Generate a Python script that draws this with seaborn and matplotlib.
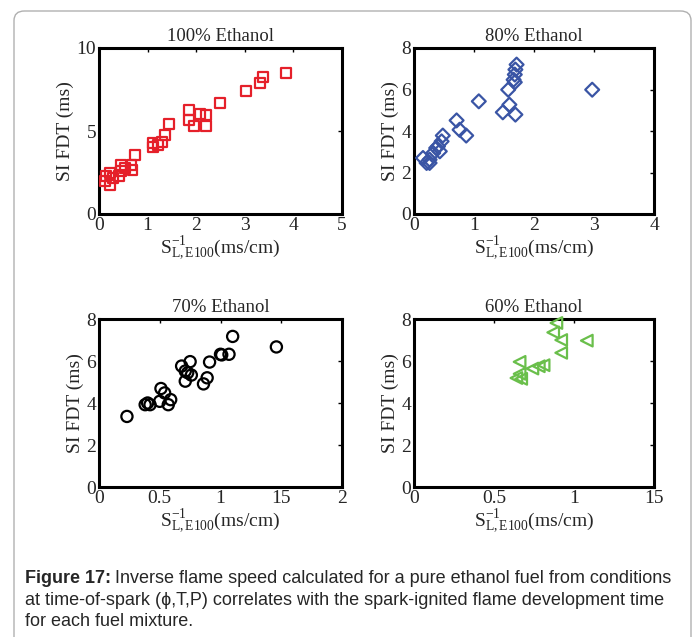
"""SI flame development time vs inverse flame speed, four ethanol blends"""
import numpy as np
import pandas as pd
import matplotlib
matplotlib.use("Agg")
import matplotlib.pyplot as plt
import seaborn as sns
from matplotlib.patches import FancyBboxPatch


### data
e100_x = [3.85, 3.38, 3.31, 3.02, 2.49, 1.86, 1.86, 2.08, 2.20, 1.95, 2.21, 1.44, 1.35,
          1.29, 1.22, 1.10, 1.11, 0.74, 0.69, 0.67, 0.46, 0.41, 0.46, 0.22, 0.15, 0.22,
          0.12, 0.29, 0.53]
e100_y = [8.49, 8.23, 7.89, 7.43, 6.67, 6.25, 5.68, 6.04, 5.98, 5.32, 5.28, 5.44, 4.78,
          4.32, 4.18, 4.28, 4.02, 3.57, 2.63, 2.93, 2.97, 2.27, 2.57, 2.47, 2.27, 1.77,
          1.97, 2.17, 2.77]

e80_x = [2.97, 1.71, 1.69, 1.68, 1.66, 1.68, 1.57, 1.59, 1.48, 1.69, 1.08, 0.71, 0.76,
         0.87, 0.48, 0.46, 0.40, 0.43, 0.32, 0.26, 0.15, 0.21, 0.37, 0.26]
e80_y = [5.99, 7.20, 6.96, 6.72, 6.47, 6.35, 5.99, 5.27, 4.90, 4.79, 5.43, 4.51, 4.06,
         3.78, 3.78, 3.50, 3.26, 3.02, 2.94, 2.62, 2.70, 2.46, 3.18, 2.46]

e70_x = [0.23, 0.38, 0.40, 0.42, 0.50, 0.51, 0.54, 0.57, 0.59, 0.68, 0.71, 0.71, 0.73,
         0.75, 0.76, 0.86, 0.89, 0.91, 1.00, 1.07, 1.01, 1.10, 1.46]
e70_y = [3.36, 3.92, 4.00, 3.92, 4.08, 4.69, 4.48, 3.92, 4.16, 5.76, 5.52, 5.04, 5.44,
         5.97, 5.33, 4.91, 5.20, 5.95, 6.32, 6.32, 6.29, 7.17, 6.67]

e60_x = [0.89, 0.87, 0.92, 1.08, 0.92, 0.66, 0.78, 0.81, 0.74, 0.64, 0.67, 0.66]
e60_y = [7.81, 7.36, 7.00, 6.97, 6.39, 5.96, 5.75, 5.80, 5.64, 5.19, 5.15, 5.39]

titles = ["100% Ethanol", "80% Ethanol", "70% Ethanol", "60% Ethanol"]
xlims = [5, 4, 2, 1.5]
ylims = [10, 8, 8, 8]
xticks = [[0, 1, 2, 3, 4, 5], [0, 1, 2, 3, 4], [0, 0.5, 1, 1.5, 2], [0, 0.5, 1, 1.5]]
xticklabels = [["0", "1", "2", "3", "4", "5"], ["0", "1", "2", "3", "4"],
               ["0", "0.5", "1", "15", "2"], ["0", "0.5", "1", "15"]]
yticks = [[0, 5, 10], [0, 2, 4, 6, 8], [0, 2, 4, 6, 8], [0, 2, 4, 6, 8]]

sns.set_style("white")
plt.rcParams['font.family'] = ['Liberation Serif', 'DejaVu Serif']
plt.rcParams['mathtext.fontset'] = 'custom'
plt.rcParams['mathtext.rm'] = 'Liberation Serif'
plt.rcParams['mathtext.it'] = 'Liberation Serif:italic'

fig = plt.figure(figsize=(6.94, 6.37), dpi=100)

# rounded frame around the whole figure
frame = FancyBboxPatch((14 / 694, -0.05), 677 / 694, 1 - 11 / 637 + 0.05,
                       boxstyle="round,pad=0,rounding_size=0.015",
                       transform=fig.transFigure, fill=False,
                       edgecolor="#b0b0b0", linewidth=1.0)
fig.patches.append(frame)

positions = [
    [99 / 694, 1 - 214 / 637, 243 / 694, 166 / 637],
    [414 / 694, 1 - 214 / 637, 240 / 694, 166 / 637],
    [99 / 694, 1 - 487 / 637, 243 / 694, 168 / 637],
    [414 / 694, 1 - 487 / 637, 240 / 694, 168 / 637],
]

series = [(e100_x, e100_y, 's', '#e5202a', 50),
          (e80_x, e80_y, 'D', '#3a55a5', 50),
          (e70_x, e70_y, 'o', 'black', 65),
          (e60_x, e60_y, '<', '#6abf4b', 70)]

for i, (xs, ys, mk, col, size) in enumerate(series):
    ax = fig.add_axes(positions[i])
    df = pd.DataFrame({'x': xs, 'y': ys})
    sns.scatterplot(data=df, x='x', y='y', marker=mk, s=size, facecolor='none',
                    edgecolor=col, linewidth=1.6, ax=ax, zorder=3, clip_on=False)
    ax.set_xlim(0, xlims[i])
    ax.set_ylim(0, ylims[i])
    ax.set_xticks(xticks[i])
    ax.set_xticklabels(xticklabels[i])
    ax.set_yticks(yticks[i])
    ax.tick_params(direction='in', length=3, width=1, labelsize=14,
                   top=True, right=True, pad=2, color='black')
    for sp in ax.spines.values():
        sp.set_linewidth(2.2)
        sp.set_color('black')
    ax.set_title(titles[i], fontsize=13.5, pad=5)
    ax.set_xlabel(r'$\mathrm{S}^{-1}_{\mathrm{L,E100}}$(ms/cm)', fontsize=14, labelpad=0)
    ax.set_ylabel('SI FDT (ms)', fontsize=14, labelpad=2)

caption = [
    (583, "Inverse flame speed calculated for a pure ethanol fuel from conditions"),
    (605, "at time-of-spark (\u03d5,T,P) correlates with the spark-ignited flame development time"),
    (626, "for each fuel mixture."),
]
cap_font = ['Liberation Sans', 'DejaVu Sans']
t = fig.text(25 / 694, 1 - caption[0][0] / 637, "Figure 17:", fontsize=13,
             fontweight='bold', family=cap_font, va='baseline')
fig.canvas.draw()
bb = t.get_window_extent()
fig.text(bb.x1 / 694 + 4 / 694, 1 - caption[0][0] / 637, caption[0][1], fontsize=13,
         family=cap_font, va='baseline')
for yy, line in caption[1:]:
    fig.text(25 / 694, 1 - yy / 637, line, fontsize=13, family=cap_font, va='baseline')

fig.savefig("out.png", dpi=100)
